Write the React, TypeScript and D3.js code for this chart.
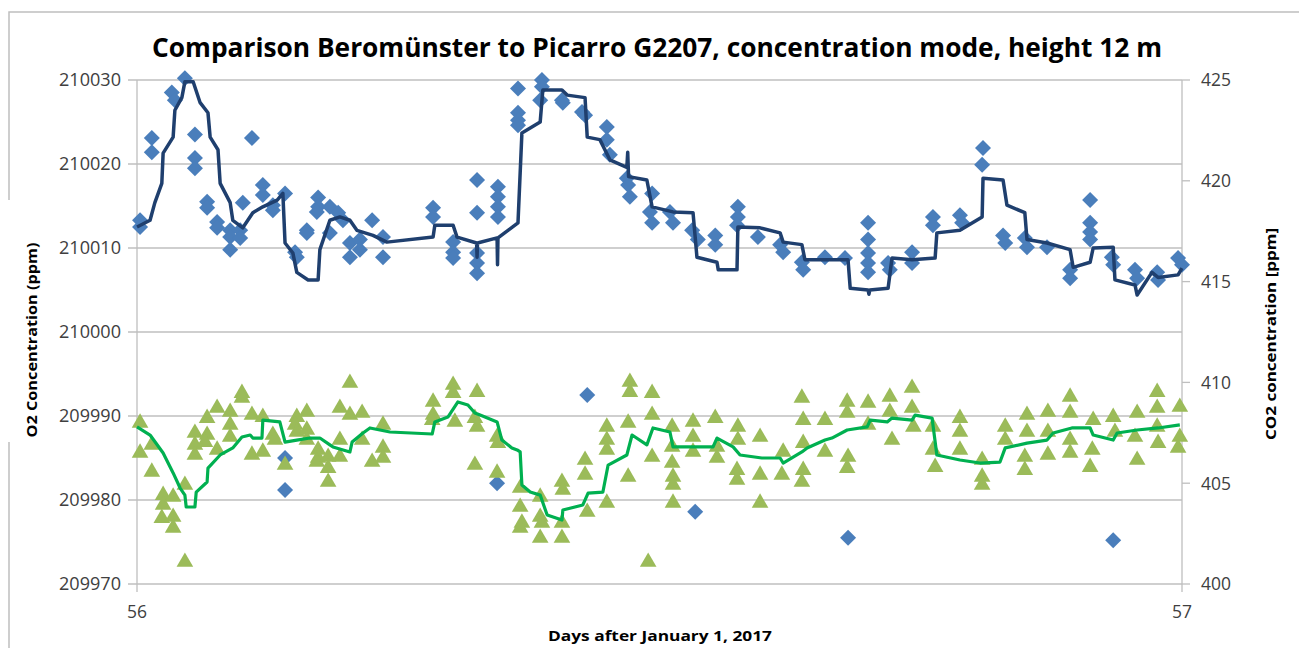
import { useEffect, useRef } from 'react';
import * as d3 from 'd3';

// [hour after day 56, O2 ppm] - Beromünster line
const o2Line: [number, number][] = [
  [0.00, 210012.5], [0.30, 210013.3], [0.41, 210015.4], [0.57, 210017.7], [0.60, 210021.3], [0.83, 210023.2],
  [0.87, 210026.4], [1.03, 210027.9], [1.10, 210029.8], [1.29, 210029.8], [1.45, 210027.3], [1.63, 210026.1],
  [1.68, 210023.2], [1.86, 210021.7], [1.91, 210017.7], [2.14, 210015.4], [2.20, 210013.3], [2.43, 210012.4],
  [2.66, 210014.2], [2.89, 210014.9], [3.22, 210015.7], [3.35, 210016.5], [3.40, 210010.6], [3.58, 210009.4],
  [3.67, 210007.1], [3.93, 210006.2], [4.16, 210006.2], [4.20, 210009.8], [4.43, 210013.3], [4.66, 210013.7],
  [4.89, 210013.3], [5.05, 210012.1], [5.42, 210011.5], [5.74, 210010.7], [6.80, 210011.3], [6.84, 210012.7],
  [7.26, 210012.7], [7.35, 210011.3], [7.80, 210010.6], [7.81, 210008.9], [7.82, 210010.6], [8.27, 210011.2],
  [8.28, 210008.0], [8.29, 210011.2], [8.75, 210013.0], [8.84, 210023.7], [9.26, 210025.0], [9.32, 210028.8],
  [9.76, 210028.8], [9.88, 210028.2], [10.29, 210027.9], [10.34, 210023.2], [10.63, 210022.9], [10.86, 210020.5],
  [11.25, 210019.6], [11.27, 210021.4], [11.29, 210018.5], [11.71, 210018.1], [11.83, 210014.9], [12.31, 210014.3],
  [12.77, 210014.2], [12.86, 210008.9], [13.32, 210008.3], [13.35, 210007.4], [13.78, 210007.4], [13.80, 210012.5],
  [14.31, 210012.4], [14.77, 210011.8], [14.84, 210010.7], [15.27, 210010.4], [15.34, 210008.6], [16.33, 210008.6],
  [16.38, 210005.2], [16.79, 210005.0], [16.81, 210004.5], [16.83, 210005.0], [17.25, 210005.2], [17.34, 210008.8],
  [17.80, 210008.6], [18.33, 210008.8], [18.37, 210011.8], [18.90, 210012.1], [19.41, 210013.7], [19.43, 210018.3],
  [19.89, 210018.1], [19.98, 210015.1], [20.39, 210014.2], [20.44, 210011.0], [20.90, 210010.6], [21.43, 210009.8],
  [21.50, 210007.7], [21.89, 210008.3], [21.96, 210010.0], [22.42, 210010.1], [22.46, 210006.2], [22.92, 210005.6],
  [22.97, 210004.4], [23.31, 210007.1], [23.45, 210006.5], [23.91, 210006.8], [24.0, 210007.6],
];

// [hour, O2 ppm] - Picarro diamonds
const o2Points: [number, number][] = [
  [0.07, 210013.3], [0.07, 210012.5], [0.34, 210023.1], [0.34, 210021.4], [0.80, 210028.5], [0.87, 210027.6],
  [1.10, 210030.2], [1.33, 210023.5], [1.33, 210020.7], [1.33, 210019.5], [1.61, 210015.5], [1.61, 210014.8],
  [1.84, 210013.1], [1.84, 210012.4], [2.14, 210012.1], [2.14, 210011.3], [2.14, 210009.8], [2.37, 210012.1],
  [2.37, 210011.2], [2.43, 210015.4], [2.64, 210023.1], [2.89, 210017.5], [2.89, 210016.3], [3.12, 210015.1],
  [3.12, 210014.5], [3.40, 210016.5], [3.63, 210009.5], [3.67, 210008.9], [3.90, 210012.1], [3.90, 210011.8],
  [4.16, 210016.0], [4.16, 210014.9], [4.13, 210014.3], [4.43, 210014.9], [4.43, 210011.8], [4.62, 210014.2],
  [4.73, 210013.3], [4.89, 210010.6], [4.89, 210008.9], [5.12, 210011.0], [5.12, 210009.8], [5.40, 210013.3],
  [5.65, 210011.3], [5.65, 210008.9], [6.80, 210014.8], [6.80, 210013.7], [7.26, 210010.7], [7.26, 210009.5],
  [7.26, 210008.8], [7.81, 210018.1], [7.81, 210014.2], [7.81, 210009.4], [7.81, 210008.2], [7.81, 210007.0],
  [8.29, 210017.3], [8.29, 210016.1], [8.29, 210014.9], [8.29, 210013.7], [8.75, 210029.0], [8.75, 210026.1],
  [8.75, 210025.2], [8.75, 210024.6], [9.30, 210030.0], [9.30, 210029.2], [9.26, 210027.6], [9.76, 210027.6],
  [9.78, 210027.3], [10.22, 210026.2], [10.29, 210025.8], [10.79, 210024.4], [10.79, 210022.9], [10.86, 210021.1],
  [11.25, 210018.3], [11.28, 210017.5], [11.32, 210016.1], [11.83, 210016.5], [11.78, 210014.3], [11.83, 210013.0],
  [12.24, 210014.3], [12.31, 210013.0], [12.75, 210012.1], [12.88, 210011.0], [13.28, 210011.5], [13.28, 210010.4],
  [13.80, 210014.9], [13.80, 210013.7], [13.78, 210012.7], [14.26, 210011.3], [14.77, 210010.4], [14.84, 210009.5],
  [15.27, 210008.3], [15.30, 210007.4], [15.80, 210008.9], [16.26, 210008.8], [16.79, 210013.0], [16.79, 210011.0],
  [16.79, 210009.4], [16.79, 210008.2], [16.79, 210007.1], [17.25, 210008.2], [17.29, 210007.4], [17.80, 210009.5],
  [17.80, 210008.2], [18.28, 210013.7], [18.28, 210012.7], [18.90, 210013.9], [18.95, 210013.0], [19.43, 210021.9],
  [19.41, 210019.9], [19.89, 210011.5], [19.94, 210010.6], [20.39, 210011.2], [20.44, 210010.1], [20.90, 210010.1],
  [21.43, 210007.4], [21.43, 210006.4], [21.89, 210015.7], [21.89, 210013.0], [21.89, 210011.9], [21.89, 210011.0],
  [22.39, 210008.9], [22.42, 210008.0], [22.92, 210007.4], [22.97, 210006.4], [23.43, 210007.1], [23.45, 210006.2],
  [23.91, 210008.8], [24.0, 210008.0],
  [3.40, 209985.0], [3.40, 209981.2], [8.27, 209982.0], [10.34, 209992.5], [12.82, 209978.6], [16.33, 209975.5],
  [22.42, 209975.2],
];

// [hour, CO2 ppm] - Beromünster line
const co2Line: [number, number][] = [
  [0.00, 407.79], [0.30, 407.39], [0.60, 406.50], [0.83, 405.51], [0.99, 404.76], [1.10, 404.41], [1.13, 403.82],
  [1.33, 403.82], [1.36, 404.56], [1.61, 405.06], [1.63, 405.75], [1.91, 406.40], [2.20, 406.75], [2.41, 407.29],
  [2.60, 407.39], [2.66, 407.24], [2.87, 407.24], [2.89, 408.13], [3.28, 408.04], [3.40, 407.04], [3.67, 407.14],
  [3.97, 407.24], [4.20, 407.24], [4.43, 406.90], [4.50, 406.80], [4.89, 406.55], [4.94, 407.04], [5.19, 407.49],
  [5.35, 407.74], [5.81, 407.54], [6.78, 407.44], [6.84, 408.04], [7.14, 408.28], [7.37, 409.03], [7.60, 408.88],
  [7.76, 408.48], [7.88, 408.38], [8.27, 408.04], [8.38, 407.14], [8.61, 406.75], [8.73, 406.65], [8.80, 406.55],
  [8.84, 404.91], [9.03, 404.56], [9.26, 404.41], [9.42, 403.42], [9.76, 403.17], [9.78, 403.67], [10.24, 403.92],
  [10.36, 404.51], [10.70, 404.56], [10.82, 405.90], [11.25, 406.40], [11.37, 407.39], [11.71, 406.90], [11.85, 407.74],
  [12.24, 407.54], [12.31, 406.80], [12.77, 406.80], [13.23, 406.80], [13.32, 407.24], [13.69, 406.80], [13.85, 406.40],
  [14.35, 406.25], [14.77, 406.25], [14.84, 406.00], [15.27, 406.55], [15.39, 406.75], [15.80, 407.14], [15.96, 407.24],
  [16.31, 407.64], [16.77, 407.79], [16.84, 408.13], [17.23, 408.04], [17.34, 408.23], [17.80, 408.13], [17.87, 408.38],
  [18.26, 408.23], [18.37, 406.40], [18.90, 406.15], [19.36, 406.00], [19.82, 406.05], [19.94, 406.75], [20.44, 406.99],
  [20.90, 407.14], [21.04, 407.49], [21.47, 407.74], [21.89, 407.74], [21.96, 407.39], [22.42, 407.14], [22.51, 407.49],
  [22.97, 407.64], [23.45, 407.74], [23.95, 407.89],
];

// [hour, CO2 ppm] - Picarro triangles
const co2Points: [number, number][] = [
  [0.07, 407.99], [0.07, 406.50], [0.34, 406.90], [0.34, 405.56], [0.60, 404.41], [0.60, 403.92], [0.57, 403.27],
  [0.83, 404.32], [0.83, 403.32], [0.83, 402.78], [1.10, 404.91], [1.10, 401.09], [1.33, 407.49], [1.33, 406.90],
  [1.33, 406.40], [1.61, 408.23], [1.61, 407.39], [1.56, 407.04], [1.84, 408.73], [1.84, 406.65], [2.14, 408.53],
  [2.14, 407.89], [2.14, 407.29], [2.41, 409.47], [2.41, 409.23], [2.64, 408.38], [2.64, 406.40], [2.89, 408.28],
  [2.89, 406.55], [3.12, 407.39], [3.17, 407.14], [3.40, 405.90], [3.67, 408.28], [3.63, 407.89], [3.67, 407.54],
  [3.90, 408.53], [3.90, 407.64], [3.90, 407.14], [4.16, 406.65], [4.16, 406.25], [4.13, 406.05], [4.39, 406.30],
  [4.39, 405.75], [4.39, 405.06], [4.66, 408.73], [4.66, 407.14], [4.66, 406.30], [4.89, 409.97], [4.89, 408.38],
  [5.17, 408.48], [5.17, 407.14], [5.40, 406.05], [5.65, 407.89], [5.65, 406.75], [5.65, 406.25], [6.80, 409.03],
  [6.80, 408.38], [6.78, 408.13], [7.26, 409.87], [7.26, 409.47], [7.30, 408.04], [7.81, 409.52], [7.76, 408.23],
  [7.81, 407.79], [7.76, 405.90], [8.27, 407.29], [8.27, 405.51], [8.29, 406.99], [8.80, 404.76], [8.80, 403.82],
  [8.84, 403.03], [8.80, 402.78], [9.26, 404.32], [9.26, 403.32], [9.30, 403.03], [9.26, 402.28], [9.76, 405.06],
  [9.78, 404.66], [9.76, 403.03], [9.76, 402.28], [10.29, 406.15], [10.29, 405.41], [10.34, 403.57], [10.79, 407.79],
  [10.79, 407.14], [10.79, 406.65], [10.79, 404.02], [11.32, 410.02], [11.32, 409.52], [11.28, 407.99], [11.28, 405.31],
  [11.83, 409.47], [11.83, 408.38], [11.83, 406.30], [11.74, 401.09], [12.29, 407.79], [12.29, 406.80], [12.29, 406.00],
  [12.31, 405.31], [12.31, 404.91], [12.31, 404.02], [12.77, 408.04], [12.77, 407.29], [12.77, 406.55], [13.28, 408.23],
  [13.32, 406.80], [13.32, 406.25], [13.80, 407.79], [13.80, 407.14], [13.78, 405.65], [13.78, 405.16], [14.31, 407.29],
  [14.31, 405.41], [14.31, 404.02], [14.84, 406.55], [14.81, 405.41], [15.27, 409.23], [15.30, 408.13], [15.30, 406.99],
  [15.30, 405.65], [15.27, 405.06], [15.80, 408.13], [15.80, 406.55], [16.31, 409.03], [16.31, 408.48], [16.33, 406.30],
  [16.31, 405.75], [16.79, 408.98], [16.79, 407.89], [17.29, 409.28], [17.29, 408.53], [17.34, 407.14], [17.80, 409.72],
  [17.80, 408.73], [17.83, 407.79], [18.28, 407.79], [18.28, 406.65], [18.33, 405.80], [18.90, 408.23], [18.90, 407.54],
  [18.90, 406.65], [19.41, 406.15], [19.41, 405.31], [19.41, 404.91], [19.94, 407.79], [19.94, 407.14], [20.44, 408.38],
  [20.44, 407.54], [20.39, 406.30], [20.39, 405.65], [20.92, 408.53], [20.92, 407.54], [20.92, 406.40], [21.43, 409.28],
  [21.43, 408.48], [21.43, 407.14], [21.43, 406.50], [21.96, 408.13], [21.94, 406.65], [21.89, 405.80], [22.42, 408.28],
  [22.46, 407.54], [22.97, 408.48], [22.92, 407.29], [22.97, 406.15], [23.43, 409.52], [23.43, 408.73], [23.43, 407.79],
  [23.45, 406.99], [23.95, 408.78], [23.95, 407.29], [23.91, 406.75],
];

const o2Ticks = [209970, 209980, 209990, 210000, 210010, 210020, 210030];
const co2Ticks = [400, 405, 410, 415, 420, 425];
const dayTicks = [56, 57];

const W = 1299;
const H = 648;
const left = 137;
const right = 1182;
const top = 80;
const bottom = 584;
const font = "'Open Sans', 'DejaVu Sans', sans-serif";
const textColor = '#404040';
const gridColor = '#bfbfbf';

export default function App() {
  const svgRef = useRef<SVGSVGElement>(null);

  useEffect(() => {
    if (!svgRef.current) return;
    const svg = d3.select(svgRef.current);
    svg.selectAll('*').remove();

    const x = d3.scaleLinear().domain([56, 57]).range([left, right]);
    const yL = d3.scaleLinear().domain([209970, 210030]).range([bottom, top]);
    const yR = d3.scaleLinear().domain([400, 425]).range([bottom, top]);
    const day = (h: number) => 56 + h / 24;

    svg.append('rect').attr('width', W).attr('height', H).attr('fill', '#fff');
    // outer frame (partly hidden behind the left axis title)
    svg.append('path')
      .attr('d', `M9,200V12H${W + 5}M9,442V${H + 5}`)
      .attr('fill', 'none').attr('stroke', gridColor).attr('stroke-width', 1.5);

    // gridlines
    svg.append('g').selectAll('line').data(o2Ticks).enter().append('line')
      .attr('x1', left - 9).attr('x2', right)
      .attr('y1', d => yL(d)).attr('y2', d => yL(d))
      .attr('stroke', gridColor).attr('stroke-width', 1.3);

    // axis lines
    svg.append('line').attr('x1', left).attr('x2', left).attr('y1', top).attr('y2', bottom + 8)
      .attr('stroke', gridColor).attr('stroke-width', 1.3);
    svg.append('line').attr('x1', right).attr('x2', right).attr('y1', top).attr('y2', bottom + 8)
      .attr('stroke', gridColor).attr('stroke-width', 1.3);
    svg.append('g').selectAll('line').data(co2Ticks).enter().append('line')
      .attr('x1', right).attr('x2', right + 8)
      .attr('y1', d => yR(d)).attr('y2', d => yR(d))
      .attr('stroke', gridColor).attr('stroke-width', 1.3);

    // tick labels
    svg.append('g').selectAll('text').data(o2Ticks).enter().append('text')
      .attr('x', left - 16).attr('y', d => yL(d)).attr('dy', '0.36em')
      .attr('text-anchor', 'end').attr('font-family', font).attr('font-size', 17.5)
      .attr('textLength', 62).attr('lengthAdjust', 'spacingAndGlyphs')
      .attr('fill', textColor).text(d => d);
    svg.append('g').selectAll('text').data(co2Ticks).enter().append('text')
      .attr('x', right + 19).attr('y', d => yR(d)).attr('dy', '0.36em')
      .attr('text-anchor', 'start').attr('font-family', font).attr('font-size', 17.5)
      .attr('textLength', 30).attr('lengthAdjust', 'spacingAndGlyphs')
      .attr('fill', textColor).text(d => d);
    svg.append('g').selectAll('text').data(dayTicks).enter().append('text')
      .attr('x', d => x(d)).attr('y', 612).attr('dy', '0.36em')
      .attr('text-anchor', 'middle').attr('font-family', font).attr('font-size', 17.5)
      .attr('textLength', 20).attr('lengthAdjust', 'spacingAndGlyphs')
      .attr('fill', textColor).text(d => d);

    // O2 diamonds
    const diamond = d3.symbol(d3.symbolSquare, 128)();
    svg.append('g').selectAll('path').data(o2Points).enter().append('path')
      .attr('d', diamond)
      .attr('transform', d => `translate(${x(day(d[0]))},${yL(d[1])}) rotate(45)`)
      .attr('fill', '#4a7ebb');

    // CO2 triangles
    const tri = d3.symbol(d3.symbolTriangle, 120)();
    svg.append('g').selectAll('path').data(co2Points).enter().append('path')
      .attr('d', tri)
      .attr('transform', d => `translate(${x(day(d[0]))},${yR(d[1])})`)
      .attr('fill', '#9bbb59');

    // lines
    const lineL = d3.line<[number, number]>().x(d => x(day(d[0]))).y(d => yL(d[1]));
    const lineR = d3.line<[number, number]>().x(d => x(day(d[0]))).y(d => yR(d[1]));
    svg.append('path').attr('d', lineL(o2Line)).attr('fill', 'none')
      .attr('stroke', '#1f3f6e').attr('stroke-width', 3.5).attr('stroke-linejoin', 'round');
    svg.append('path').attr('d', lineR(co2Line)).attr('fill', 'none')
      .attr('stroke', '#00b050').attr('stroke-width', 3.2).attr('stroke-linejoin', 'round');

    // titles
    svg.append('text').attr('x', 657).attr('y', 57).attr('text-anchor', 'middle')
      .attr('font-family', font).attr('font-weight', 'bold').attr('font-size', 27)
      .attr('textLength', 1010).attr('lengthAdjust', 'spacingAndGlyphs')
      .attr('fill', '#000').text('Comparison Beromünster to Picarro G2207, concentration mode, height 12 m');
    svg.append('text').attr('x', 660).attr('y', 641).attr('text-anchor', 'middle')
      .attr('font-family', font).attr('font-weight', 'bold').attr('font-size', 15)
      .attr('textLength', 224).attr('lengthAdjust', 'spacingAndGlyphs')
      .attr('fill', '#000').text('Days after January 1, 2017');
    svg.append('text').attr('transform', `translate(37,340) rotate(-90)`).attr('text-anchor', 'middle')
      .attr('font-family', font).attr('font-weight', 'bold').attr('font-size', 15)
      .attr('textLength', 195).attr('lengthAdjust', 'spacingAndGlyphs')
      .attr('fill', '#000').text('O2 Concentration  (ppm)');
    svg.append('text').attr('transform', `translate(1276,334) rotate(-90)`).attr('text-anchor', 'middle')
      .attr('font-family', font).attr('font-weight', 'bold').attr('font-size', 15)
      .attr('textLength', 212).attr('lengthAdjust', 'spacingAndGlyphs')
      .attr('fill', '#000').text('CO2 concentration [ppm]');
  }, []);

  return (
    <svg ref={svgRef} width={W} height={H}
      style={{ position: 'absolute', left: 0, top: 0, display: 'block' }} />
  );
}
